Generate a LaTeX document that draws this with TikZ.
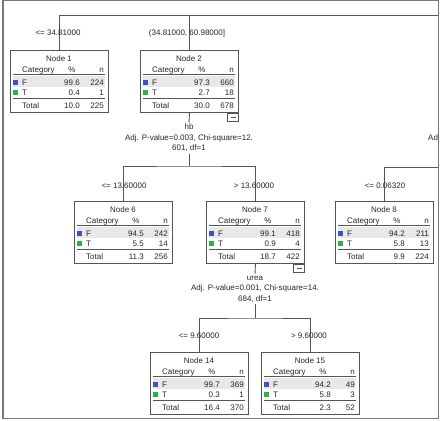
\documentclass[tikz,border=0pt]{standalone}
\usepackage{fontspec}
\setmainfont{Liberation Sans}
\usepackage{tikz}
\usepackage{xcolor}
\definecolor{catblue}{RGB}{60,80,200}
\definecolor{catgreen}{RGB}{40,180,70}
\definecolor{linegray}{RGB}{85,85,85}
\definecolor{rowgray}{RGB}{232,232,232}
\definecolor{framegray}{RGB}{120,120,120}

\tikzset{
    nodebox/.style={draw=linegray, line width=0.9pt, minimum width=98pt, minimum height=62pt,
        anchor=north west, inner sep=0pt},
    celltext/.style={inner sep=0pt, text=black!85, font=\fontsize{8}{10}\selectfont},
    edgelabel/.style={celltext, anchor=base},
    splitlabel/.style={celltext, align=center, anchor=north, inner sep=1.5pt,
        font=\fontsize{8}{10.5}\selectfont},
    conn/.style={draw=linegray, line width=0.9pt},
    rule/.style={draw=linegray, line width=0.7pt},
    minusbox/.style={draw=linegray, line width=0.8pt, fill=white, minimum width=11pt,
        minimum height=8pt, inner sep=0pt, anchor=north east}
}

% one tree node: name, top left, number, F (% n), T (% n), total (% n)
\newcommand{\treenode}[9]{%
    \node[nodebox] (#1) at (#2) {};
    \fill[rowgray] ([shift={(3,26)}]#1.north west) rectangle ([shift={(95,37)}]#1.north west);
    \node[celltext, anchor=base] (#1-title) at ([shift={(49,11)}]#1.north west) {Node #3};
    % header
    \node[celltext, anchor=base west] (#1-cat) at ([shift={(12,22)}]#1.north west) {Category};
    \node[celltext, anchor=base] (#1-pct) at ([shift={(62,22)}]#1.north west) {\%};
    \node[celltext, anchor=base east] (#1-n) at ([shift={(94,22)}]#1.north west) {n};
    \draw[rule] ([shift={(3,24)}]#1.north west) -- ([shift={(95,24)}]#1.north west);
    % F row
    \fill[catblue] ([shift={(3,29.5)}]#1.north west) rectangle ++(5,5);
    \node[celltext, anchor=base west] (#1-f) at ([shift={(12,35)}]#1.north west) {F};
    \node[celltext, anchor=base east] (#1-fp) at ([shift={(70,35)}]#1.north west) {#4};
    \node[celltext, anchor=base east] (#1-fn) at ([shift={(94,35)}]#1.north west) {#5};
    % T row
    \fill[catgreen] ([shift={(3,39.5)}]#1.north west) rectangle ++(5,5);
    \node[celltext, anchor=base west] (#1-t) at ([shift={(12,45)}]#1.north west) {T};
    \node[celltext, anchor=base east] (#1-tp) at ([shift={(70,45)}]#1.north west) {#6};
    \node[celltext, anchor=base east] (#1-tn) at ([shift={(94,45)}]#1.north west) {#7};
    \draw[rule] ([shift={(3,48)}]#1.north west) -- ([shift={(95,48)}]#1.north west);
    % total
    \node[celltext, anchor=base west] (#1-tot) at ([shift={(12,58)}]#1.north west) {Total};
    \node[celltext, anchor=base east] (#1-totp) at ([shift={(70,58)}]#1.north west) {#8};
    \node[celltext, anchor=base east] (#1-totn) at ([shift={(94,58)}]#1.north west) {#9};
}

\begin{document}
\begin{tikzpicture}[x=1pt, y=-1pt]
    \useasboundingbox (0,0) rectangle (441,420);

    % Nodes
    \treenode{n1}{10,50}{1}{99.6}{224}{0.4}{1}{10.0}{225}
    \treenode{n2}{140,50}{2}{97.3}{660}{2.7}{18}{30.0}{678}
    \treenode{n6}{74,201}{6}{94.5}{242}{5.5}{14}{11.3}{256}
    \treenode{n7}{206,201}{7}{99.1}{418}{0.9}{4}{18.7}{422}
    \treenode{n8}{335,201}{8}{94.2}{211}{5.8}{13}{9.9}{224}
    \treenode{n14}{150,352}{14}{99.7}{369}{0.3}{1}{16.4}{370}
    \treenode{n15}{261,352}{15}{94.2}{49}{5.8}{3}{2.3}{52}

    % Split texts
    \node[splitlabel] (split2) at (189,122.5) {hb\\Adj. P-value=0.003, Chi-square=12.\\601, df=1};
    \node[splitlabel] (split7) at (255,274) {urea\\Adj. P-value=0.001, Chi-square=14.\\684, df=1};

    % Branch points
    \coordinate (root) at (438,15);
    \coordinate (br8) at (438,167);
    \coordinate (br2) at (189,166);
    \coordinate (br7) at (255,318);

    % Connectors
    \draw[conn] (n1.north) |- (root);
    \draw[conn] (n2.north) -- (n2.north |- root);
    \draw[conn] (n2.south) -- (split2.north);
    \draw[conn] (split2.south) -- (br2);
    \draw[conn] (n6.north) |- (br2) -| (n7.north);
    \draw[conn] (n8.north) |- (br8);
    \draw[conn] (n7.south) -- (split7.north);
    \draw[conn] (split7.south) -- (br7);
    \draw[conn] (n14.north) |- (br7) -| (n15.north);

    % Collapse boxes
    \node[minusbox] (n2-minus) at (n2.south east) {};
    \draw[rule] ([xshift=-2.5pt]n2-minus.center) -- ([xshift=2.5pt]n2-minus.center);
    \node[minusbox] (n7-minus) at (n7.south east) {};
    \draw[rule] ([xshift=-2.5pt]n7-minus.center) -- ([xshift=2.5pt]n7-minus.center);

    % Edge labels
    \node[edgelabel] (l1) at (58,36) {<= 34.81000};
    \node[edgelabel] (l2) at (187,36) {(34.81000, 60.98000]};
    \node[edgelabel] (l6) at (124,188) {<= 13.60000};
    \node[edgelabel] (l7) at (254,188) {> 13.60000};
    \node[edgelabel] (l8) at (385,188) {<= 0.06320};
    \node[edgelabel] (l14) at (199,338) {<= 9.60000};
    \node[edgelabel] (l15) at (309,338) {> 9.60000};

    % Cut-off split text of the right branch
    \begin{scope}
        \clip (3,0) rectangle (438,420);
        \node[celltext, anchor=base west] (split-r) at (428,140) {Adj};
    \end{scope}

    % Frame
    \draw[draw=framegray, line width=1.5pt] (3,0.75) rectangle (438.5,418.5);
\end{tikzpicture}
\end{document}
